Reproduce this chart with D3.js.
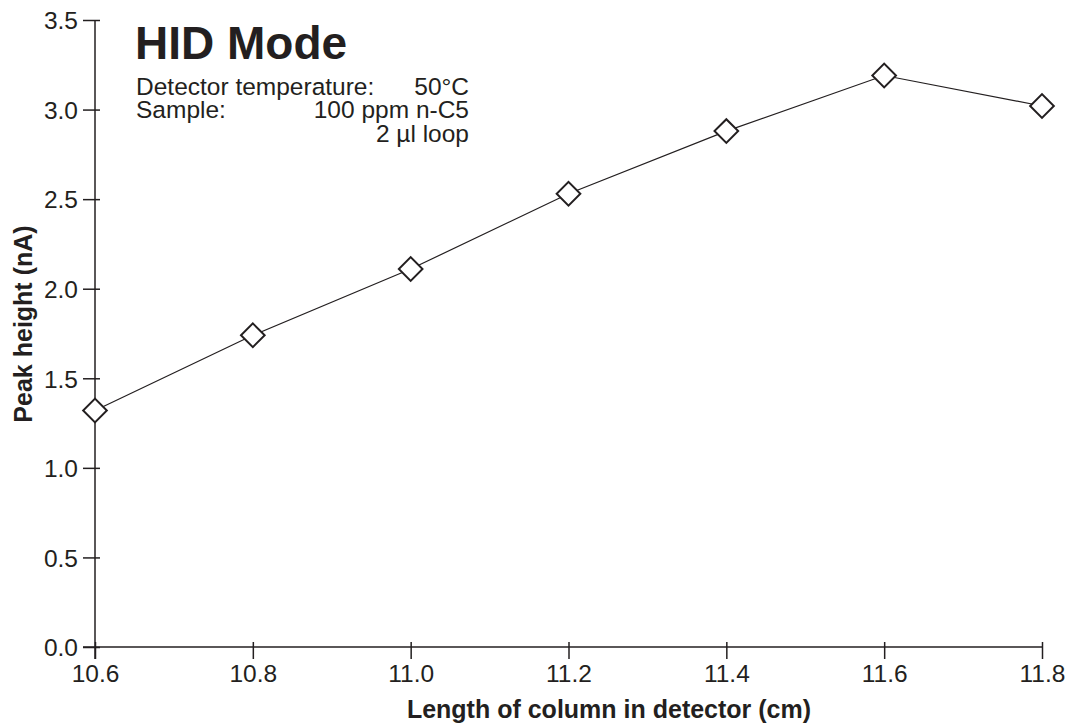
<!DOCTYPE html>
<html>
<head>
<meta charset="utf-8">
<script src="https://cdn.jsdelivr.net/npm/d3@7"></script>
<style>
  body { margin: 0; background: #fff; }
  text { font-family: "Liberation Sans", Arial, Helvetica, sans-serif; fill: #231f20; }
</style>
</head>
<body>
<div id="chart"></div>
<script>
// data
const columnLength = [10.6, 10.8, 11.0, 11.2, 11.4, 11.6, 11.8];
const peakHeight = [1.32, 1.74, 2.11, 2.53, 2.88, 3.19, 3.02];
const xTicks = [10.6, 10.8, 11.0, 11.2, 11.4, 11.6, 11.8];
const yTicks = [0, 0.5, 1.0, 1.5, 2.0, 2.5, 3.0, 3.5];
const infoLabels = ["Detector temperature:", "Sample:", ""];
const infoValues = ["50°C", "100 ppm n-C5", "2 µl loop"];

const W = 1071, H = 727;
const MARGIN = { TOP: 20, LEFT: 95, RIGHT: 29, BOTTOM: 80 };
const INK = "#231f20";

const svg = d3.select("#chart").append("svg")
  .attr("width", W)
  .attr("height", H);

const x = d3.scaleLinear()
  .domain([10.6, 11.8])
  .range([MARGIN.LEFT, W - MARGIN.RIGHT]);

const y = d3.scaleLinear()
  .domain([0, 3.5])
  .range([H - MARGIN.BOTTOM, MARGIN.TOP]);

// x axis
const xAxis = svg.append("g")
  .attr("transform", `translate(0,${y(0)})`)
  .call(d3.axisBottom(x).tickValues(xTicks).tickFormat(d3.format(".1f")).tickSize(12).tickSizeOuter(0));

xAxis.select(".domain")
  .attr("d", `M${x(10.6) - 12},0H${x(11.8)}`);
xAxis.selectAll(".tick line").attr("y1", -5);
xAxis.selectAll(".tick text").attr("dy", "0.71em").attr("y", 18);

// y axis
const yAxis = svg.append("g")
  .attr("transform", `translate(${x(10.6)},0)`)
  .call(d3.axisLeft(y).tickValues(yTicks).tickFormat(d3.format(".1f")).tickSize(12).tickSizeOuter(0));

yAxis.select(".domain")
  .attr("d", `M0,${y(3.5)}V${y(0) + 12}`);
yAxis.selectAll(".tick line").attr("x1", 5);
yAxis.selectAll(".tick text").attr("x", -17).attr("dy", "0.36em");

svg.selectAll(".domain, .tick line")
  .attr("stroke", INK)
  .attr("stroke-width", 1.5);

svg.selectAll(".tick text")
  .attr("font-size", 24.5)
  .attr("font-family", null)
  .attr("fill", INK);

// axis titles
svg.append("text")
  .attr("x", 609)
  .attr("y", 718)
  .attr("text-anchor", "middle")
  .attr("font-size", 25)
  .attr("font-weight", "bold")
  .text("Length of column in detector (cm)");

svg.append("text")
  .attr("transform", `translate(32,324) rotate(-90)`)
  .attr("text-anchor", "middle")
  .attr("font-size", 25)
  .attr("font-weight", "bold")
  .text("Peak height (nA)");

// data line
const line = d3.line()
  .x((d, i) => x(columnLength[i]))
  .y(d => y(d));

svg.append("path")
  .datum(peakHeight)
  .attr("fill", "none")
  .attr("stroke", INK)
  .attr("stroke-width", 1.2)
  .attr("d", line);

// diamond markers
const diamond = d3.symbol().type(d3.symbolSquare).size(280);

svg.selectAll(".marker")
  .data(peakHeight)
  .enter().append("path")
  .attr("class", "marker")
  .attr("transform", (d, i) => `translate(${x(columnLength[i])},${y(d)}) rotate(45)`)
  .attr("d", diamond)
  .attr("fill", "#fff")
  .attr("stroke", INK)
  .attr("stroke-width", 2);

// annotation block
svg.append("text")
  .attr("x", 135)
  .attr("y", 59)
  .attr("font-size", 46)
  .attr("font-weight", "bold")
  .text("HID Mode");

const info = svg.append("g");
infoLabels.forEach((label, i) => {
  info.append("text")
    .attr("x", 136)
    .attr("y", 94.5 + i * 23.5)
    .attr("font-size", 24.5)
    .text(label);
  info.append("text")
    .attr("x", 469)
    .attr("y", 94.5 + i * 23.5)
    .attr("font-size", 24.5)
    .attr("text-anchor", "end")
    .text(infoValues[i]);
});
</script>
</body>
</html>
